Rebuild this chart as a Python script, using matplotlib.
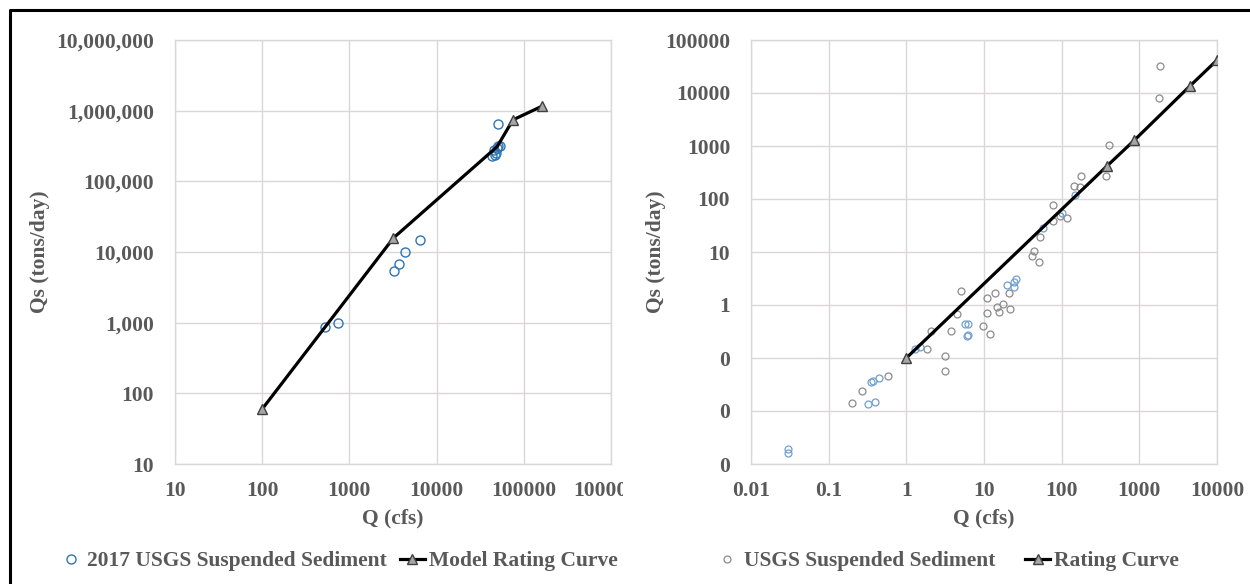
import matplotlib
matplotlib.use('Agg')
import matplotlib.pyplot as plt
from matplotlib.ticker import FixedLocator, FuncFormatter, NullLocator
from matplotlib.lines import Line2D
from matplotlib.patches import Rectangle

# ---- left panel data: 2017 USGS samples and model rating curve
usgs2017_q = [525, 740, 3230, 3660, 4290, 6450, 50800,
              43500, 46500, 47500, 46000, 49000, 50000, 54000]
usgs2017_qs = [870, 975, 5400, 6760, 9850, 14800, 650000,
               228000, 235000, 255000, 275000, 300000, 318000, 315000]
model_q = [100, 3200, 49500, 75000, 160000]
model_qs = [60, 15800, 310000, 740000, 1150000]

# ---- right panel data: USGS samples and rating curve
usgs_gray_q = [0.20, 0.27, 0.58, 1.83, 2.07, 3.16, 3.16, 3.8, 4.5, 5.0,
               9.8, 12, 11, 11, 13.8, 14.8, 15.7, 17.4, 21.5, 21,
               42, 44, 51, 53, 77, 78, 95, 116, 144, 171, 177,
               372, 405, 1800, 1840]
usgs_gray_qs = [0.014, 0.024, 0.046, 0.146, 0.32, 0.11, 0.058, 0.32, 0.67, 1.86,
                0.40, 0.28, 0.72, 1.38, 1.66, 0.9, 0.75, 1.03, 0.83, 1.7,
                8.4, 10.6, 6.4, 19, 77, 39, 48, 44, 176, 170, 275,
                272, 1050, 7950, 32400]
usgs_blue_q = [0.03, 0.03, 0.32, 0.40, 0.35, 0.37, 0.44, 1.3, 1.5,
               5.7, 6.3, 6.0, 6.3, 20, 24, 24, 26, 57, 100, 148]
usgs_blue_qs = [0.0019, 0.0016, 0.0135, 0.0148, 0.036, 0.037, 0.042, 0.15, 0.16,
                0.43, 0.43, 0.26, 0.27, 2.38, 2.15, 2.75, 3.05, 28, 54, 120]
rating_q = [1, 378, 855, 4470, 10000]
rating_qs = [0.1, 411, 1270, 13500, 41700]

left_xticks = [10, 100, 1000, 10000, 100000, 1000000]
left_yticks = [10, 100, 1000, 10000, 100000, 1000000, 10000000]
right_xticks = [0.01, 0.1, 1, 10, 100, 1000, 10000]
right_yticks = [0.001, 0.01, 0.1, 1, 10, 100, 1000, 10000, 100000]

txt = '#595959'
grid = '#dcd7d7'
font = 'Liberation Serif'
fs = 15.5

plt.rcParams['font.family'] = font
plt.rcParams['font.weight'] = 'bold'

fig = plt.figure(figsize=(12.5, 5.84), dpi=100)
W, H = 1250, 584


def box(x0, x1, y0, y1):
    return [x0 / W, 1 - y1 / H, (x1 - x0) / W, (y1 - y0) / H]


ax1 = fig.add_axes(box(175, 611, 40, 464))
ax2 = fig.add_axes(box(751, 1217, 40, 464))


def style(ax, xticks, yticks, xfmt, yfmt):
    ax.set_xscale('log')
    ax.set_yscale('log')
    ax.set_xlim(xticks[0], xticks[-1])
    ax.set_ylim(yticks[0], yticks[-1])
    ax.xaxis.set_major_locator(FixedLocator(xticks))
    ax.yaxis.set_major_locator(FixedLocator(yticks))
    ax.xaxis.set_minor_locator(NullLocator())
    ax.yaxis.set_minor_locator(NullLocator())
    ax.xaxis.set_major_formatter(FuncFormatter(xfmt))
    ax.yaxis.set_major_formatter(FuncFormatter(yfmt))
    ax.grid(True, color=grid, linewidth=1.0)
    ax.set_axisbelow(True)
    for s in ax.spines.values():
        s.set_color(grid)
        s.set_linewidth(1.0)
    ax.tick_params(length=0, labelsize=fs, labelcolor=txt)
    ax.tick_params(axis='x', pad=12)
    ax.tick_params(axis='y', pad=15)
    for lab in ax.get_xticklabels() + ax.get_yticklabels():
        lab.set_fontweight('bold')
    ax.set_xlabel('Q (cfs)', fontsize=fs, color=txt, fontweight='bold')
    ax.set_ylabel('Qs (tons/day)', fontsize=fs, color=txt, fontweight='bold')


style(ax1, left_xticks, left_yticks,
      lambda v, p: '{:.0f}'.format(v), lambda v, p: '{:,.0f}'.format(v))
style(ax2, right_xticks, right_yticks,
      lambda v, p: '{:g}'.format(v), lambda v, p: '{:.0f}'.format(v))

ax1.xaxis.set_label_coords(0.5, -0.105)
ax1.yaxis.set_label_coords(-0.287, 0.5)
ax2.xaxis.set_label_coords(0.5, -0.105)
ax2.yaxis.set_label_coords(-0.182, 0.5)

# left panel
ax1.plot(usgs2017_q, usgs2017_qs, 'o', ms=6.5, mfc='none', mec='#2e75b6',
         mew=1.0, label='2017 USGS Suspended Sediment', zorder=2)
ax1.plot(model_q, model_qs, '-', color='black', lw=2.3, marker='^', ms=7,
         mfc='#a6a6a6', mec='#404040', mew=1.0, markevery=[0, 1, 3, 4],
         label='Model Rating Curve', zorder=3)

# right panel
ax2.plot(usgs_gray_q, usgs_gray_qs, 'o', ms=5, mfc='none', mec='#8c8c8c',
         mew=0.9, label='USGS Suspended Sediment', zorder=2)
ax2.plot(usgs_blue_q, usgs_blue_qs, 'o', ms=5, mfc='none', mec='#6fa0d0',
         mew=0.9, zorder=2)
ax2.plot(rating_q, rating_qs, '-', color='black', lw=2.3, marker='^', ms=7,
         mfc='#a6a6a6', mec='#404040', mew=1.0, label='Rating Curve', zorder=3)

leg_kw = dict(loc='center', ncol=2, frameon=False,
              handlelength=1.15, handletextpad=0.2, columnspacing=0.6,
              labelcolor=txt, prop={'family': font, 'weight': 'bold', 'size': fs})
h1, l1 = ax1.get_legend_handles_labels()
fig.legend(h1, l1, bbox_to_anchor=(338 / W, 1 - 561 / H), **leg_kw)
h2 = [ax2.lines[0], ax2.lines[2]]
l2 = ['USGS Suspended Sediment', 'Rating Curve']
leg2 = dict(leg_kw)
leg2['columnspacing'] = 1.4
fig.legend(h2, l2, bbox_to_anchor=(947 / W, 1 - 561 / H), **leg2)

# right panel covers the end of the left panel's last tick label
fig.patches.append(Rectangle((623 / W, 1 - 510 / H), 35 / W, 40 / H,
                             transform=fig.transFigure, facecolor='white',
                             edgecolor='none', zorder=5))

# page frame (top and left edges)
fig.lines.append(Line2D([10 / W, 10 / W, 1.0], [0.0, 1 - 10 / H, 1 - 10 / H],
                        transform=fig.transFigure, color='black', lw=2.2))

fig.savefig('out.png', dpi=100)
